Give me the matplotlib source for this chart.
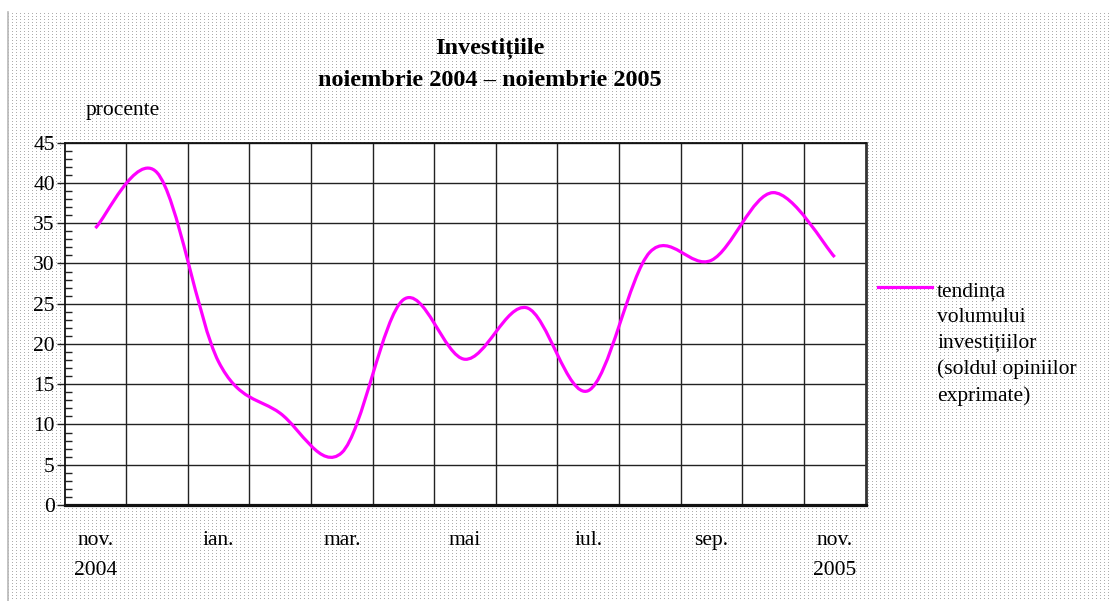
import numpy as np
import matplotlib
matplotlib.use("Agg")
import matplotlib.pyplot as plt
from matplotlib.path import Path
from matplotlib.patches import PathPatch
from matplotlib.lines import Line2D
from matplotlib.ticker import MultipleLocator

# ---- data ----
months = ["nov. 2004", "dec.", "ian.", "feb.", "mar.", "apr.", "mai", "iun.",
          "iul.", "aug.", "sep.", "oct.", "nov. 2005"]
values = [34.4, 41.3, 17.8, 11.4, 6.5, 25.5, 18.1, 24.5, 14.2, 31.4, 30.4, 38.8, 30.8]
tick_labels = ["nov.\n2004", "", "ian.", "", "mar.", "", "mai", "", "iul.", "", "sep.", "", "nov.\n2005"]
series_name = "tendința\nvolumului\ninvestițiilor\n(soldul opiniilor\nexprimate)"
title = "Investițiile\nnoiembrie 2004 – noiembrie 2005"

W, H, DPI = 1112, 601, 100
SERIF = ["Liberation Serif", "DejaVu Serif"]
plt.rcParams["font.family"] = SERIF
FS = 15.5

fig = plt.figure(figsize=(W / DPI, H / DPI), dpi=DPI)
fig.patch.set_facecolor("white")

# dotted background pattern
img = np.ones((H, W, 4))
mask = np.zeros((H, W), dtype=bool)
mask[13::3, 8::4] = True
img[mask, :3] = 0.68
img[:, :, 3] = 1.0
fig.figimage(img, 0, 0, zorder=-5, origin="upper")
fig.add_artist(Line2D([7.5 / W, 7.5 / W], [0, 1 - 12 / H], transform=fig.transFigure,
                      color="#b8b8b8", lw=1.2))

left, right, top, bottom = 64.5, 865.5, 142.7, 505.0
ax = fig.add_axes([left / W, 1 - bottom / H, (right - left) / W, (bottom - top) / H])
ax.set_facecolor("white")

x = np.arange(len(values))
y = np.array(values, dtype=float)

# Excel-style smoothed curve (Catmull-Rom bezier)
pts = np.column_stack([x, y])
ext = np.vstack([pts[0], pts, pts[-1]])
verts = [tuple(pts[0])]
codes = [Path.MOVETO]
for i in range(len(pts) - 1):
    p0, p1, p2, p3 = ext[i], ext[i + 1], ext[i + 2], ext[i + 3]
    c1 = p1 + (p2 - p0) / 6.0
    c2 = p2 - (p3 - p1) / 6.0
    verts += [tuple(c1), tuple(c2), tuple(p2)]
    codes += [Path.CURVE4] * 3
ax.add_patch(PathPatch(Path(verts, codes), facecolor="none", edgecolor="#FF00FF",
                       lw=2.3, zorder=3, capstyle="butt"))

ax.set_xlim(-0.5, len(values) - 0.5)
ax.set_ylim(0, 45)
ax.yaxis.set_major_locator(MultipleLocator(5))
ax.yaxis.set_minor_locator(MultipleLocator(1))
ax.set_xticks(np.arange(0.5, len(values) - 0.5, 1.0))
ax.set_xticklabels([])
ax.grid(True, which="major", axis="both", color="#222222", lw=1.0)
ax.tick_params(axis="x", length=0)
ax.tick_params(axis="y", which="major", direction="out", length=6, width=1.0,
               color="#222222", labelsize=FS, pad=1)
ax.tick_params(axis="y", which="minor", direction="in", length=5, width=1.0, color="#222222")
for lab in ax.get_yticklabels():
    lab.set_fontfamily(SERIF)

for s in ["left", "top"]:
    ax.spines[s].set_linewidth(1.3)
    ax.spines[s].set_color("#111111")
ax.spines["bottom"].set_linewidth(2.3)
ax.spines["bottom"].set_color("#111111")
ax.spines["right"].set_linewidth(2.0)
ax.spines["right"].set_color("#333333")

# category labels
for i, lab in enumerate(tick_labels):
    if lab:
        ax.text(i, -3.2, lab, ha="center", va="top", fontsize=FS,
                linespacing=1.78, transform=ax.transData, clip_on=False)

fig.text(490 / W, 1 - 37 / H, title, ha="center", va="top", fontsize=17.5,
         fontweight="bold", linespacing=1.72)
fig.text(86 / W, 1 - 110 / H, "procente", ha="left", va="center", fontsize=FS)

# legend
fig.add_artist(Line2D([878 / W, 932 / W], [1 - 287 / H, 1 - 287 / H],
                      transform=fig.transFigure, color="#FF00FF", lw=2.3))
fig.text(937 / W, 1 - 283 / H, series_name, ha="left", va="top", fontsize=FS,
         linespacing=1.46)

fig.savefig("out.png", dpi=DPI)
